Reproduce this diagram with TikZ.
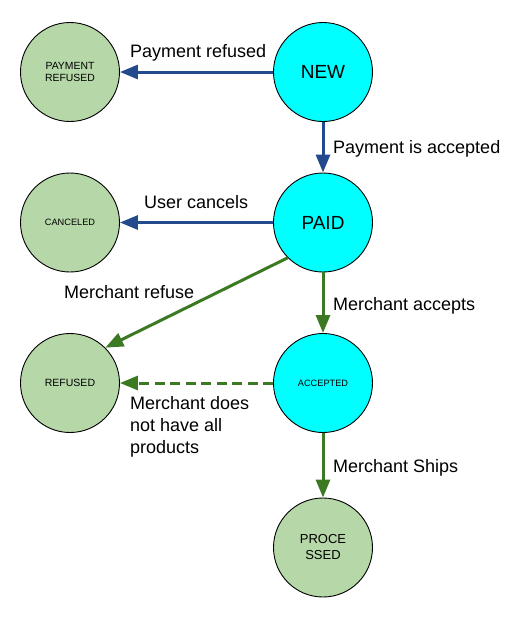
\documentclass[tikz,border=0pt]{standalone}
\usepackage{fontspec}
\setmainfont{Liberation Sans}
\usetikzlibrary{arrows.meta}
\definecolor{stgreen}{HTML}{B6D7A8}
\definecolor{stcyan}{HTML}{00FFFF}
\definecolor{arblue}{HTML}{234A8C}
\definecolor{argreen}{HTML}{3B7A22}
\begin{document}
\begin{tikzpicture}[x=1pt,y=-1pt,
  state/.style={circle,draw=black,line width=0.9pt,minimum size=99pt,inner sep=0pt,align=center,text=black},
  endstate/.style={state,fill=stgreen},
  livestate/.style={state,fill=stcyan},
  bluearr/.style={draw=arblue,line width=3pt,-{Triangle[length=18pt,width=14pt]}},
  greenarr/.style={draw=argreen,line width=3pt,-{Triangle[length=18pt,width=14pt]}},
  lbl/.style={font=\fontsize{18}{21.7}\selectfont,inner sep=0pt,anchor=base west,align=left}]
\useasboundingbox (0,0) rectangle (526,619);
\node[livestate,font=\fontsize{19}{22}\selectfont] (new) at (323,72) {NEW};
\node[endstate,font=\fontsize{10.4}{12.5}\selectfont] (prefused) at (70,72) {PAYMENT\\REFUSED};
\node[livestate,font=\fontsize{19}{22}\selectfont] (paid) at (323,222.5) {PAID};
\node[endstate,font=\fontsize{9.2}{11}\selectfont] (canceled) at (70,222.5) {CANCELED};
\node[livestate,font=\fontsize{9.2}{11}\selectfont] (accepted) at (323,383) {ACCEPTED};
\node[endstate,font=\fontsize{10.5}{12}\selectfont] (refused) at (70,383) {REFUSED};
\node[endstate,font=\fontsize{13}{16}\selectfont] (processed) at (323,547.5) {PROCE\\SSED};

\draw[bluearr] (new) -- (prefused);
\draw[bluearr] (new) -- (paid);
\draw[bluearr] (paid) -- (canceled);
\draw[greenarr] (paid.south west) -- (refused.north east);
\draw[greenarr] (paid) -- (accepted);
\draw[greenarr,dash pattern=on 10pt off 5.5pt] (accepted) -- (refused);
\draw[greenarr] (accepted) -- (processed);

\node[lbl] (l1) at (130,57) {Payment refused};
\node[lbl] (l2) at (333,153) {Payment is accepted};
\node[lbl] (l3) at (144,208) {User cancels};
\node[lbl] (l4) at (64,298) {Merchant refuse};
\node[lbl] (l5) at (333,310) {Merchant accepts};
\node[lbl] (l6) at (130,453) {Merchant does\\not have all\\products};
\node[lbl] (l7) at (333,472) {Merchant Ships};
\end{tikzpicture}
\end{document}
